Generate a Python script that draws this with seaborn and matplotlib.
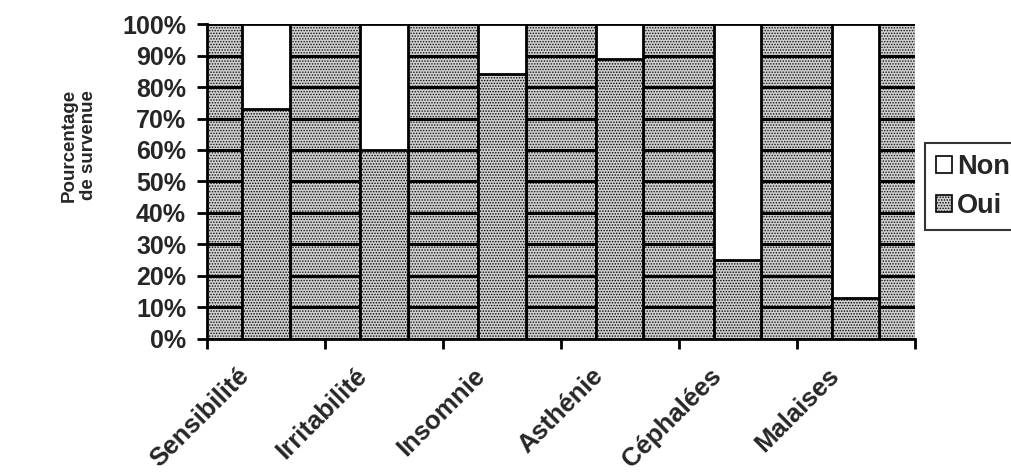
import matplotlib
matplotlib.use("Agg")
import matplotlib.pyplot as plt
import matplotlib.transforms as mtransforms
import seaborn as sns
import pandas as pd
from matplotlib.patches import Patch
from matplotlib.ticker import MultipleLocator, PercentFormatter, FixedLocator

categories = ["Sensibilité", "Irritabilité", "Insomnie", "Asthénie", "Céphalées", "Malaises"]
oui = [73, 60, 84, 89, 25, 13]
non = [100 - v for v in oui]
series_labels = ["Non", "Oui"]

sns.set_theme(style="white")
plt.rcParams["font.family"] = ["Liberation Sans", "DejaVu Sans"]
plt.rcParams["font.weight"] = "bold"
plt.rcParams["hatch.linewidth"] = 0.7
plt.rcParams["hatch.color"] = "#111111"

STIPPLE_FACE = "#d0d0d0"
STIPPLE_HATCH = "......"

df = pd.DataFrame({"cat": categories, "oui": oui, "total": [o + n for o, n in zip(oui, non)]})

fig = plt.figure(figsize=(10.12, 4.76), dpi=100)
ax = fig.add_axes([0.2045, 0.288, 0.6995, 0.6615])

# stippled plot area
ax.set_facecolor(STIPPLE_FACE)
ax.patch.set_hatch(STIPPLE_HATCH)
ax.patch.set_edgecolor("#111111")
ax.patch.set_linewidth(0)

# stacked 100% bars: "Non" on top of "Oui"
sns.barplot(data=df, x="cat", y="total", color="white", width=0.4,
            edgecolor="black", linewidth=2, saturation=1, ax=ax, zorder=3)
sns.barplot(data=df, x="cat", y="oui", color=STIPPLE_FACE, width=0.4,
            edgecolor="black", linewidth=2, saturation=1, ax=ax, zorder=4)
for bar in ax.patches[len(categories):]:
    bar.set_hatch(STIPPLE_HATCH)

ax.set_ylim(0, 100)
ax.set_xlim(-0.5, len(categories) - 0.5)
ax.yaxis.set_major_locator(MultipleLocator(10))
ax.yaxis.set_major_formatter(PercentFormatter(decimals=0))
ax.set_axisbelow(True)
ax.grid(axis="y", color="black", linewidth=2.2, zorder=1)
ax.grid(axis="x", visible=False)

for side in ["top", "right"]:
    ax.spines[side].set_visible(False)
for side in ["left", "bottom"]:
    ax.spines[side].set_color("black")
    ax.spines[side].set_linewidth(2)

# category boundary ticks on the x axis
ax.xaxis.set_minor_locator(FixedLocator([i - 0.5 for i in range(len(categories) + 1)]))
ax.tick_params(axis="x", which="major", length=0, pad=18)
ax.tick_params(axis="x", which="minor", length=7, width=2, color="black", direction="out", bottom=True)
ax.tick_params(axis="y", which="major", length=7, width=2, color="black", direction="out", left=True,
               labelsize=18, pad=8)
ax.set_xticks(range(len(categories)))
ax.set_xticklabels(categories, rotation=45, ha="right", rotation_mode="anchor",
                   fontsize=18.5, fontweight="bold")
shift = mtransforms.ScaledTranslation(-0.29, 0, fig.dpi_scale_trans)
for lbl in ax.get_xticklabels():
    lbl.set_transform(lbl.get_transform() + shift)
for lbl in ax.get_yticklabels():
    lbl.set_fontweight("bold")

ax.set_xlabel("")
ax.set_ylabel("Pourcentage\nde survenue", fontsize=13.5, fontweight="bold")
ax.yaxis.set_label_coords(-0.155, 0.615)

handles = [
    Patch(facecolor="white", edgecolor="black", linewidth=1.2, label=series_labels[0]),
    Patch(facecolor=STIPPLE_FACE, edgecolor="black", linewidth=1.2, hatch=STIPPLE_HATCH, label=series_labels[1]),
]
leg = ax.legend(handles=handles, loc="upper left", bbox_to_anchor=(1.0141, 0.622),
                frameon=True, fancybox=False, fontsize=19.5, handlelength=0.6, handleheight=0.6,
                handletextpad=0.2, borderpad=0.4, labelspacing=0.5, borderaxespad=0.0)
leg.get_frame().set_edgecolor("black")
leg.get_frame().set_linewidth(1.5)
for t in leg.get_texts():
    t.set_fontweight("bold")

fig.savefig("out.png", dpi=100)
